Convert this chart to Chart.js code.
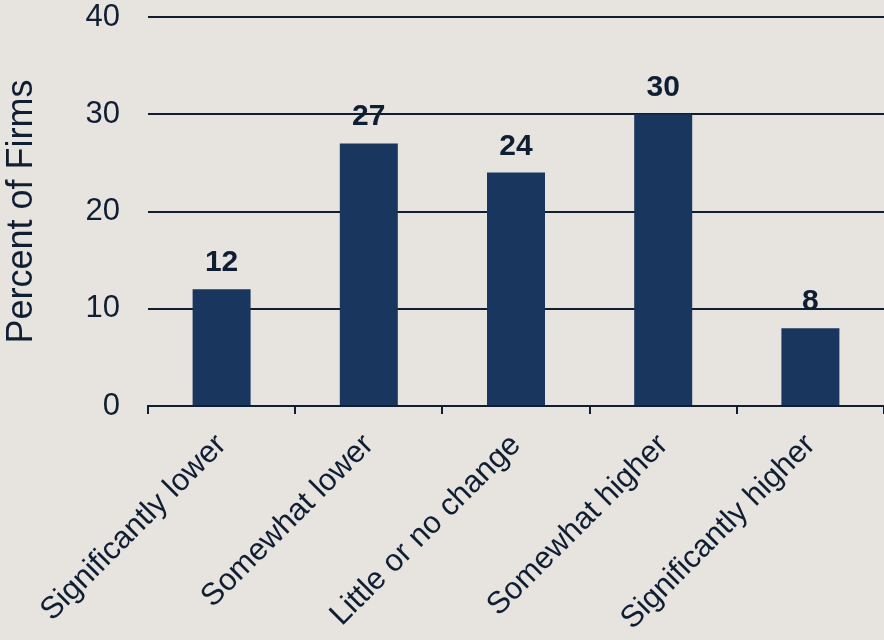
<!DOCTYPE html>
<html lang="en">
<head>
    <meta charset="UTF-8">
    <title>Percent of Firms</title>
    <style>
* {
    margin: 0;
    padding: 0;
    box-sizing: border-box;
}

body {
    background-color: #e7e4e0;
    font-family: "Liberation Sans", Arial, sans-serif;
}

.chart-container {
    width: 884px;
    height: 640px;
}
    </style>
</head>
<body>
    <div class="chart-container">
        <canvas id="firms-chart"></canvas>
    </div>

    <script src="https://cdn.jsdelivr.net/npm/chart.js@4/dist/chart.umd.min.js"></script>
    <script>
// Data for the chart
const categories = ['Significantly lower', 'Somewhat lower', 'Little or no change', 'Somewhat higher', 'Significantly higher'];
const percentFirms = [12, 27, 24, 30, 8];
const yTicks = [0, 10, 20, 30, 40];

const navy = '#19365f';
const ink = '#0f1e33';
const fontFamily = '"Liberation Sans", Arial, sans-serif';

// Bold value above each bar
const valueLabels = {
    id: 'valueLabels',
    afterDatasetsDraw(chart) {
        const ctx = chart.ctx;
        const meta = chart.getDatasetMeta(0);
        ctx.save();
        ctx.fillStyle = ink;
        ctx.font = 'bold 30px ' + fontFamily;
        ctx.textAlign = 'center';
        ctx.textBaseline = 'alphabetic';
        meta.data.forEach((bar, i) => {
            ctx.fillText(String(percentFirms[i]), bar.x, bar.y - 18);
        });
        ctx.restore();
    }
};

const ctx = document.getElementById('firms-chart').getContext('2d');
new Chart(ctx, {
    type: 'bar',
    data: {
        labels: categories,
        datasets: [{
            data: percentFirms,
            backgroundColor: navy,
            borderWidth: 0,
            categoryPercentage: 1,
            barPercentage: 0.394
        }]
    },
    options: {
        responsive: true,
        maintainAspectRatio: false,
        animation: false,
        layout: {
            padding: { top: 17, right: 0, bottom: 0, left: 0 }
        },
        plugins: {
            legend: { display: false },
            tooltip: { enabled: false }
        },
        scales: {
            x: {
                afterFit(scale) {
                    scale.height = 234;
                    scale.paddingLeft = 0;
                    scale.paddingRight = 0;
                },
                border: { display: true, color: ink, width: 2 },
                grid: {
                    offset: true,
                    drawOnChartArea: false,
                    drawTicks: true,
                    tickLength: 8,
                    color: ink,
                    lineWidth: 2
                },
                ticks: {
                    color: ink,
                    minRotation: 45,
                    maxRotation: 45,
                    padding: 13,
                    font: { family: fontFamily, size: 31 }
                }
            },
            y: {
                min: 0,
                max: 40,
                afterFit(scale) {
                    scale.width = 148;
                    scale.paddingTop = 0;
                    scale.paddingBottom = 0;
                },
                afterBuildTicks(scale) {
                    scale.ticks = yTicks.map(v => ({ value: v }));
                },
                border: { display: false },
                grid: {
                    drawTicks: false,
                    color: ink,
                    lineWidth: 2
                },
                ticks: {
                    color: ink,
                    padding: 28,
                    font: { family: fontFamily, size: 31 }
                },
                title: {
                    display: true,
                    text: 'Percent of Firms',
                    color: ink,
                    padding: { top: 0, bottom: 0 },
                    font: { family: fontFamily, size: 36 }
                }
            }
        }
    },
    plugins: [valueLabels]
});
    </script>
</body>
</html>
